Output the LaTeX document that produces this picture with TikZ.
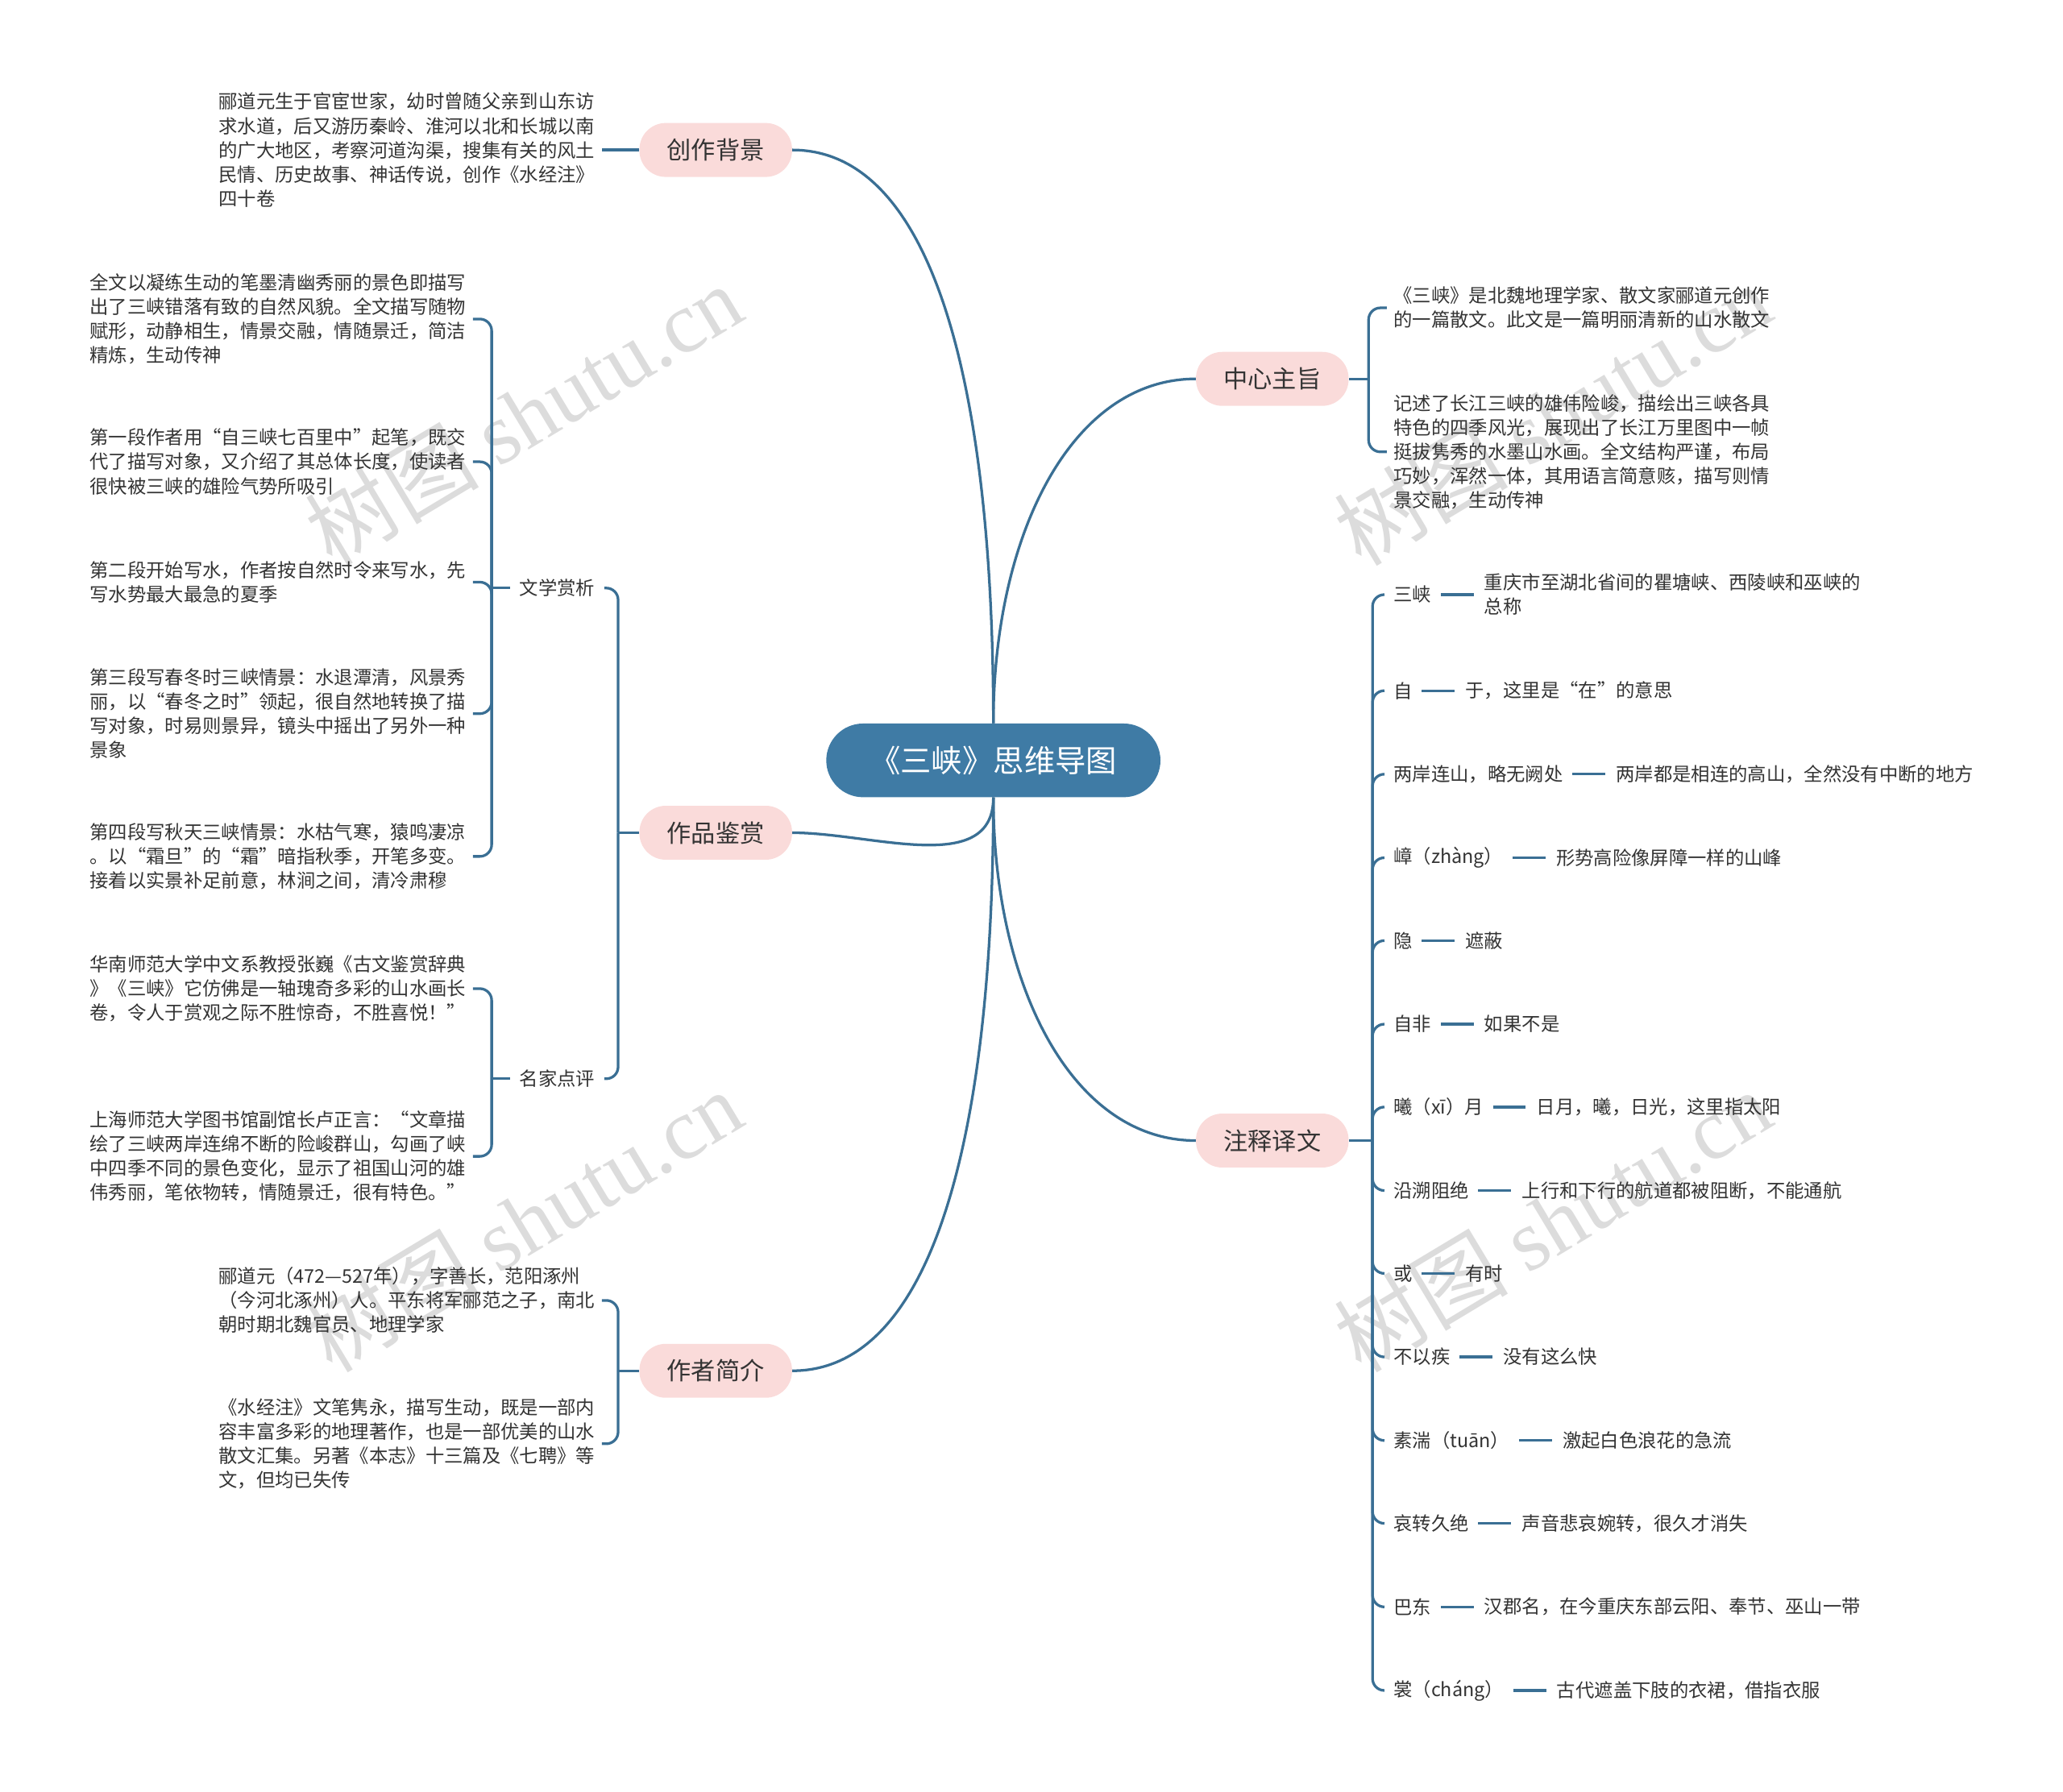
\documentclass[tikz,border=0pt]{standalone}
\usepackage{fontspec}
\setmainfont{Noto Sans CJK SC}
\newfontfamily\wmserif{Liberation Serif}
\usetikzlibrary{positioning,calc}
\definecolor{lc}{HTML}{3A6F94}
\definecolor{ctrfill}{HTML}{3F7BA5}
\definecolor{pinkf}{HTML}{FADBDA}
\definecolor{tg}{HTML}{333333}
\definecolor{wmc}{HTML}{DCDCDC}
\begin{document}
\begin{tikzpicture}[x=1pt,y=-1pt,
  conn/.style={draw=lc, line width=2pt},
  ctrnode/.style={fill=ctrfill, text=white, rounded corners=28pt, minimum width=254pt, minimum height=56pt, inner sep=0pt, font=\fontsize{23.5}{28}\selectfont},
  mainb/.style={fill=pinkf, text=tg, rounded corners=20pt, minimum width=116pt, minimum height=41pt, inner sep=0pt, font=\fontsize{18.5}{22}\selectfont},
  txt/.style={text=tg, font=\fontsize{14.3}{18.4}\selectfont, align=left, inner xsep=5pt, inner ysep=0pt, anchor=west},
  subl/.style={text=tg, font=\fontsize{14.3}{18.4}\selectfont, inner xsep=7pt, inner ysep=2pt},
  lab/.style={text=tg, font=\fontsize{14.3}{18.4}\selectfont, inner xsep=7pt, inner ysep=2pt, anchor=west},
  expl/.style={text=tg, font=\fontsize{14.3}{18.4}\selectfont, align=left, inner xsep=8pt, inner ysep=0pt, right=25pt of #1},
  wm/.style={text=wmc, font=\fontsize{66}{70}\selectfont, rotate=31, inner sep=0pt},
  br/.style={conn, rounded corners=9pt}
]
\useasboundingbox (0,0) rectangle (1568,1362);

% watermarks
\node[wm] (wm1) at (398,315) {树图 {\wmserif shutu.cn}};
\node[wm] (wm2) at (1180,315) {树图 {\wmserif shutu.cn}};
\node[wm] (wm3) at (398,928) {树图 {\wmserif shutu.cn}};
\node[wm] (wm4) at (1180,928) {树图 {\wmserif shutu.cn}};

% center and main branches
\node[ctrnode] (ctr) at (755,578) {《三峡》思维导图};
\node[mainb] (bg) at (544,114) {创作背景};
\node[mainb] (jj) at (544,633) {作品鉴赏};
\node[mainb] (zz) at (544,1042) {作者简介};
\node[mainb] (zx) at (967,288) {中心主旨};
\node[mainb] (zs) at (967,867) {注释译文};

\draw[conn] (ctr.north) to[out=90,in=0,out looseness=1.4,in looseness=0.6] (bg.east);
\draw[conn] (ctr.south) to[out=-90,in=0] (jj.east);
\draw[conn] (ctr.south) to[out=-90,in=0,out looseness=1.4,in looseness=0.6] (zz.east);
\draw[conn] (ctr.north) to[out=90,in=180,out looseness=1.2,in looseness=0.8] (zx.west);
\draw[conn] (ctr.south) to[out=-90,in=180,out looseness=1.2,in looseness=0.8] (zs.west);

% 创作背景
\node[txt] (bg1) at (161,114) {郦道元生于官宦世家，幼时曾随父亲到山东访\\求水道，后又游历秦岭、淮河以北和长城以南\\的广大地区，考察河道沟渠，搜集有关的风土\\民情、历史故事、神话传说，创作《水经注》\\四十卷};
\draw[conn] (bg.west) -- (bg1.east);

% 作品鉴赏
\node[subl] (wx) at (423.5,447) {文学赏析};
\node[subl] (mj) at (423.5,820) {名家点评};
\coordinate (jjb) at ($(jj.west)+(-16,0)$);
\draw[conn] (jj.west) -- (jjb);
\draw[br] (jjb) |- (wx.east);
\draw[br] (jjb) |- (mj.east);

\node[txt] (a1) at (63,242.5) {全文以凝练生动的笔墨清幽秀丽的景色即描写\\出了三峡错落有致的自然风貌。全文描写随物\\赋形，动静相生，情景交融，情随景迁，简洁\\精炼，生动传神};
\node[txt] (a2) at (63,351) {第一段作者用“自三峡七百里中”起笔，既交\\代了描写对象，又介绍了其总体长度，使读者\\很快被三峡的雄险气势所吸引};
\node[txt] (a3) at (63,442.5) {第二段开始写水，作者按自然时令来写水，先\\写水势最大最急的夏季};
\node[txt] (a4) at (63,542.5) {第三段写春冬时三峡情景：水退潭清，风景秀\\丽，以“春冬之时”领起，很自然地转换了描\\写对象，时易则景异，镜头中摇出了另外一种\\景象};
\node[txt] (a5) at (63,651) {第四段写秋天三峡情景：水枯气寒，猿鸣凄凉\\。以“霜旦”的“霜”暗指秋季，开笔多变。\\接着以实景补足前意，林涧之间，清冷肃穆};
\coordinate (wxb) at ($(wx.west)+(-14,0)$);
\draw[conn] (wx.west) -- (wxb);
\foreach \c in {a1,a2,a3,a4,a5} \draw[br] (wxb) |- (\c.east);

\node[txt] (b1) at (63,751.5) {华南师范大学中文系教授张巍《古文鉴赏辞典\\》《三峡》它仿佛是一轴瑰奇多彩的山水画长\\卷，令人于赏观之际不胜惊奇，不胜喜悦！”};
\node[txt] (b2) at (63,879) {上海师范大学图书馆副馆长卢正言：“文章描\\绘了三峡两岸连绵不断的险峻群山，勾画了峡\\中四季不同的景色变化，显示了祖国山河的雄\\伟秀丽，笔依物转，情随景迁，很有特色。”};
\coordinate (mjb) at ($(mj.west)+(-14,0)$);
\draw[conn] (mj.west) -- (mjb);
\foreach \c in {b1,b2} \draw[br] (mjb) |- (\c.east);

% 作者简介
\node[txt] (c1) at (161,988.5) {郦道元（472—527年），字善长，范阳涿州\\（今河北涿州）人。平东将军郦范之子，南北\\朝时期北魏官员、地理学家};
\node[txt] (c2) at (161,1097.5) {《水经注》文笔隽永，描写生动，既是一部内\\容丰富多彩的地理著作，也是一部优美的山水\\散文汇集。另著《本志》十三篇及《七聘》等\\文，但均已失传};
\coordinate (zzb) at ($(zz.west)+(-16,0)$);
\draw[conn] (zz.west) -- (zzb);
\foreach \c in {c1,c2} \draw[br] (zzb) |- (\c.east);

% 中心主旨
\node[txt] (d1) at (1054,234) {《三峡》是北魏地理学家、散文家郦道元创作\\的一篇散文。此文是一篇明丽清新的山水散文};
\node[txt] (d2) at (1054,343.5) {记述了长江三峡的雄伟险峻，描绘出三峡各具\\特色的四季风光，展现出了长江万里图中一帧\\挺拔隽秀的水墨山水画。全文结构严谨，布局\\巧妙，浑然一体，其用语言简意赅，描写则情\\景交融，生动传神};
\coordinate (zxb) at ($(zx.east)+(15,0)$);
\draw[conn] (zx.east) -- (zxb);
\foreach \c in {d1,d2} \draw[br] (zxb) |- (\c.west);

% 注释译文
\node[lab] (l1) at (1052,452) {三峡};
\node[lab] (l2) at (1052,525) {自};
\node[lab] (l3) at (1052,588.5) {两岸连山，略无阙处};
\node[lab] (l4) at (1052,652) {嶂（zhàng）};
\node[lab] (l5) at (1052,715) {隐};
\node[lab] (l6) at (1052,778.5) {自非};
\node[lab] (l7) at (1052,841.5) {曦（xī）月};
\node[lab] (l8) at (1052,905) {沿溯阻绝};
\node[lab] (l9) at (1052,968) {或};
\node[lab] (l10) at (1052,1031.5) {不以疾};
\node[lab] (l11) at (1052,1095) {素湍（tuān）};
\node[lab] (l12) at (1052,1158) {哀转久绝};
\node[lab] (l13) at (1052,1221.5) {巴东};
\node[lab] (l14) at (1052,1285) {裳（cháng）};

\node[expl=l1] (e1) {重庆市至湖北省间的瞿塘峡、西陵峡和巫峡的\\总称};
\node[expl=l2] (e2) {于，这里是“在”的意思};
\node[expl=l3] (e3) {两岸都是相连的高山，全然没有中断的地方};
\node[expl=l4] (e4) {形势高险像屏障一样的山峰};
\node[expl=l5] (e5) {遮蔽};
\node[expl=l6] (e6) {如果不是};
\node[expl=l7] (e7) {日月，曦，日光，这里指太阳};
\node[expl=l8] (e8) {上行和下行的航道都被阻断，不能通航};
\node[expl=l9] (e9) {有时};
\node[expl=l10] (e10) {没有这么快};
\node[expl=l11] (e11) {激起白色浪花的急流};
\node[expl=l12] (e12) {声音悲哀婉转，很久才消失};
\node[expl=l13] (e13) {汉郡名，在今重庆东部云阳、奉节、巫山一带};
\node[expl=l14] (e14) {古代遮盖下肢的衣裙，借指衣服};

\coordinate (zsb) at ($(zs.east)+(18,0)$);
\draw[conn] (zs.east) -- (zsb);
\foreach \i in {1,...,14} {
  \draw[br] (zsb) |- (l\i.west);
  \draw[conn] (l\i.east) -- (e\i.west);
}
\end{tikzpicture}
\end{document}
